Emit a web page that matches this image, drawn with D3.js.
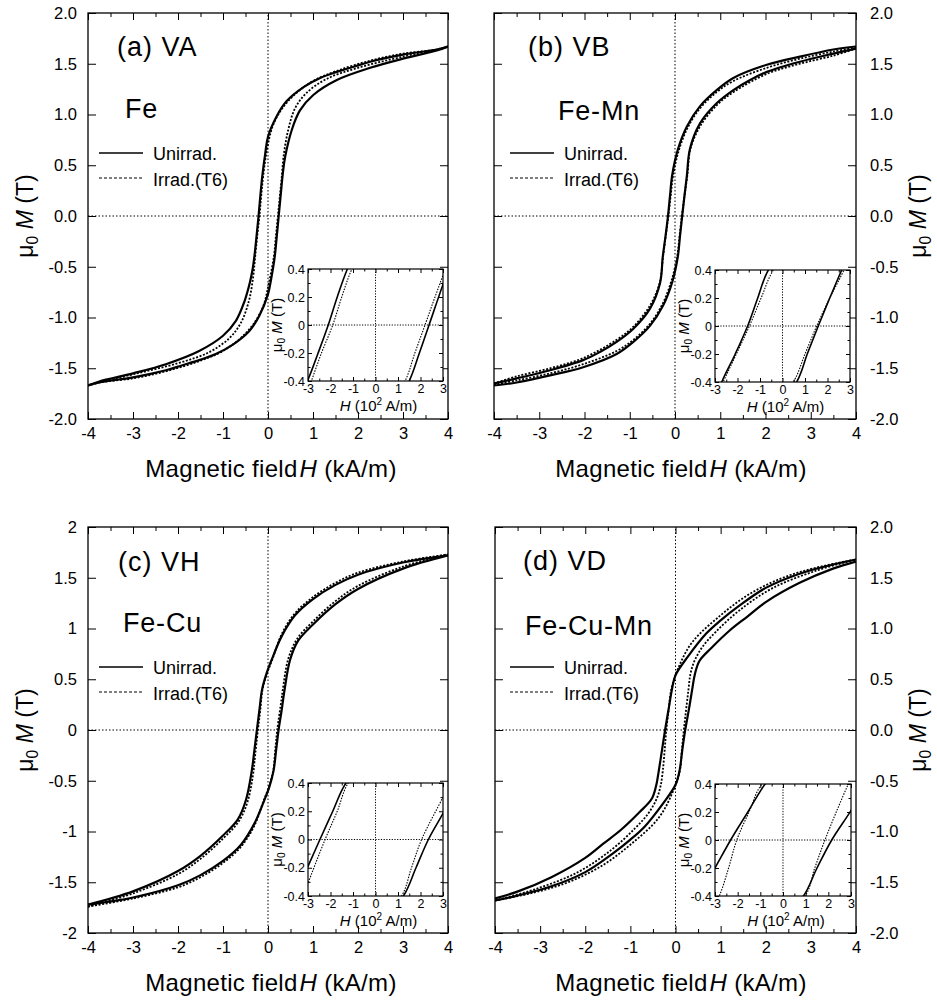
<!DOCTYPE html>
<html>
<head>
<meta charset="utf-8">
<script src="https://cdn.jsdelivr.net/npm/d3@7"></script>
<style>
  html, body { margin: 0; padding: 0; background: #fff; }
  svg { display: block; }
</style>
</head>
<body>
<svg id="fig" width="937" height="1004"></svg>
<script>
// ---------------------------------------------------------------------------
// Hysteresis loops: [H (kA/m), mu0*M (T)]
// "Down" = descending field branch (+4 -> -4), "Up" = ascending branch.
// ---------------------------------------------------------------------------

// (a) VA, Fe
const vaUnirradDown = [[4,1.67],[3.75,1.64],[3,1.59],[2.27,1.52],[1.9,1.47],[1.53,1.42],[1.16,1.36],[0.79,1.27],[0.41,1.13],[0.19,0.98],[0,0.78],[-0.06,0.62],[-0.125,0.4],[-0.17,0.2],[-0.21,0],[-0.255,-0.2],[-0.3,-0.39],[-0.34,-0.52],[-0.4,-0.65],[-0.53,-0.85],[-0.71,-1.03],[-1.0,-1.18],[-1.53,-1.33],[-2.27,-1.46],[-3,-1.55],[-3.75,-1.63],[-4,-1.67]];
const vaUnirradUp   = [[-4,-1.67],[-3.75,-1.64],[-3,-1.59],[-2.27,-1.52],[-1.9,-1.47],[-1.53,-1.42],[-1.16,-1.36],[-0.79,-1.27],[-0.41,-1.13],[-0.19,-0.98],[0,-0.77],[0.07,-0.62],[0.15,-0.4],[0.195,-0.2],[0.238,0],[0.3,0.29],[0.33,0.42],[0.38,0.58],[0.53,0.85],[0.71,1.04],[1.0,1.19],[1.53,1.34],[2.27,1.46],[3,1.55],[3.75,1.63],[4,1.67]];
const vaIrradDown   = [[4,1.67],[3.75,1.64],[3,1.6],[2.27,1.53],[1.53,1.43],[1.0,1.33],[0.6,1.2],[0.3,1.05],[0.1,0.88],[-0.02,0.66],[-0.105,0.4],[-0.15,0.2],[-0.19,0],[-0.24,-0.2],[-0.285,-0.4],[-0.33,-0.6],[-0.42,-0.83],[-0.6,-1.05],[-0.85,-1.2],[-1.3,-1.34],[-2,-1.45],[-3,-1.56],[-3.75,-1.64],[-4,-1.67]];
const vaIrradUp     = [[-4,-1.67],[-3.75,-1.64],[-3,-1.6],[-2.27,-1.53],[-1.53,-1.43],[-1.0,-1.33],[-0.6,-1.2],[-0.3,-1.05],[-0.1,-0.88],[0.02,-0.66],[0.131,-0.4],[0.175,-0.2],[0.22,0],[0.26,0.18],[0.3,0.357],[0.35,0.6],[0.45,0.85],[0.6,1.06],[0.85,1.21],[1.3,1.35],[2,1.46],[3,1.57],[3.75,1.64],[4,1.67]];

// (b) VB, Fe-Mn
const vbUnirradDown = [[4,1.67],[3.5,1.64],[2.76,1.57],[2.03,1.49],[1.29,1.36],[0.92,1.24],[0.55,1.08],[0.26,0.88],[0.06,0.65],[-0.063,0.4],[-0.11,0.2],[-0.155,0],[-0.21,-0.2],[-0.27,-0.4],[-0.33,-0.66],[-0.55,-0.91],[-0.92,-1.11],[-1.29,-1.24],[-1.66,-1.34],[-2.03,-1.42],[-2.76,-1.52],[-3.5,-1.6],[-4,-1.65]];
const vbUnirradUp   = [[-4,-1.67],[-3.5,-1.64],[-2.76,-1.57],[-2.03,-1.49],[-1.29,-1.36],[-0.92,-1.24],[-0.55,-1.08],[-0.26,-0.88],[-0.06,-0.65],[0.063,-0.4],[0.11,-0.2],[0.159,0],[0.21,0.2],[0.263,0.4],[0.33,0.66],[0.55,0.91],[0.92,1.11],[1.29,1.24],[1.66,1.34],[2.03,1.42],[2.76,1.52],[3.5,1.6],[4,1.65]];
const vbIrradDown   = [[4,1.66],[3.5,1.62],[2.76,1.55],[2.03,1.46],[1.29,1.33],[0.92,1.22],[0.55,1.06],[0.28,0.87],[0.08,0.64],[-0.041,0.4],[-0.095,0.2],[-0.147,0],[-0.205,-0.2],[-0.264,-0.4],[-0.34,-0.66],[-0.55,-0.88],[-0.92,-1.09],[-1.29,-1.22],[-2.03,-1.4],[-2.76,-1.5],[-3.5,-1.58],[-4,-1.65]];
const vbIrradUp     = [[-4,-1.66],[-3.5,-1.62],[-2.76,-1.55],[-2.03,-1.46],[-1.29,-1.33],[-0.92,-1.22],[-0.55,-1.06],[-0.28,-0.87],[-0.08,-0.64],[0.048,-0.4],[0.1,-0.2],[0.152,0],[0.21,0.2],[0.273,0.4],[0.34,0.66],[0.55,0.88],[0.92,1.09],[1.29,1.22],[2.03,1.4],[2.76,1.5],[3.5,1.58],[4,1.65]];

// (c) VH, Fe-Cu
const vhUnirradDown = [[4,1.72],[3,1.65],[2,1.53],[1.5,1.43],[1,1.29],[0.6,1.13],[0.3,0.92],[0.08,0.69],[-0.03,0.56],[-0.131,0.4],[-0.19,0.2],[-0.247,0],[-0.3,-0.19],[-0.36,-0.4],[-0.49,-0.69],[-0.67,-0.88],[-1,-1.04],[-1.5,-1.24],[-2,-1.39],[-3,-1.59],[-4,-1.72]];
const vhUnirradUp   = [[-4,-1.72],[-3,-1.65],[-2,-1.53],[-1.5,-1.43],[-1,-1.29],[-0.6,-1.13],[-0.3,-0.92],[-0.08,-0.69],[0.03,-0.56],[0.124,-0.4],[0.18,-0.2],[0.235,0],[0.3,0.185],[0.37,0.4],[0.49,0.69],[0.67,0.88],[1,1.04],[1.5,1.24],[2,1.39],[3,1.59],[4,1.72]];
const vhIrradDown   = [[4,1.73],[3,1.66],[2,1.55],[1.5,1.45],[1,1.31],[0.6,1.15],[0.3,0.94],[0.1,0.7],[-0.02,0.56],[-0.121,0.4],[-0.17,0.2],[-0.224,0],[-0.3,-0.31],[-0.32,-0.4],[-0.45,-0.7],[-0.65,-0.9],[-1,-1.07],[-1.5,-1.27],[-2,-1.42],[-3,-1.61],[-4,-1.74]];
const vhIrradUp     = [[-4,-1.74],[-3,-1.66],[-2,-1.55],[-1.5,-1.45],[-1,-1.31],[-0.6,-1.15],[-0.3,-0.94],[-0.1,-0.7],[0.02,-0.56],[0.116,-0.4],[0.16,-0.2],[0.205,0],[0.3,0.3],[0.33,0.4],[0.45,0.7],[0.65,0.9],[1,1.07],[1.5,1.27],[2,1.42],[3,1.61],[4,1.73]];

// (d) VD, Fe-Cu-Mn
const vdUnirradDown = [[4,1.68],[3.49,1.63],[2.75,1.54],[2,1.4],[1.4,1.22],[1,1.08],[0.68,0.95],[0.27,0.72],[0,0.54],[-0.079,0.4],[-0.155,0.2],[-0.231,0],[-0.3,-0.2],[-0.37,-0.4],[-0.43,-0.55],[-0.53,-0.68],[-0.8,-0.81],[-1.2,-0.98],[-1.6,-1.12],[-2,-1.26],[-2.75,-1.45],[-3.49,-1.59],[-4,-1.66]];
const vdUnirradUp   = [[-4,-1.68],[-3.49,-1.63],[-2.75,-1.54],[-2,-1.4],[-1.4,-1.22],[-1,-1.08],[-0.68,-0.95],[-0.27,-0.72],[0,-0.54],[0.09,-0.4],[0.15,-0.2],[0.215,0],[0.3,0.21],[0.37,0.4],[0.43,0.55],[0.53,0.68],[0.8,0.81],[1.2,0.98],[1.6,1.12],[2,1.26],[2.75,1.45],[3.49,1.59],[4,1.66]];
const vdIrradDown   = [[4,1.68],[3.12,1.6],[2.38,1.5],[1.64,1.34],[1,1.13],[0.38,0.87],[0.08,0.63],[-0.093,0.4],[-0.15,0.2],[-0.204,0],[-0.24,-0.2],[-0.281,-0.4],[-0.33,-0.55],[-0.42,-0.68],[-0.6,-0.82],[-0.9,-0.97],[-1.42,-1.18],[-2.16,-1.4],[-3.12,-1.57],[-4,-1.68]];
const vdIrradUp     = [[-4,-1.68],[-3.12,-1.6],[-2.38,-1.5],[-1.64,-1.34],[-1,-1.13],[-0.38,-0.87],[-0.08,-0.63],[0.097,-0.4],[0.14,-0.2],[0.185,0],[0.235,0.2],[0.288,0.4],[0.33,0.55],[0.42,0.68],[0.6,0.82],[0.9,0.97],[1.42,1.18],[2.16,1.4],[3.12,1.57],[4,1.68]];

// Labels
const panelTags   = ['(a) VA', '(b) VB', '(c) VH', '(d) VD'];
const alloyNames  = ['Fe', 'Fe-Mn', 'Fe-Cu', 'Fe-Cu-Mn'];
const seriesNames = ['Unirrad.', 'Irrad.(T6)'];

// Ticks (main: kA/m and T; inset: kA/m shown as 10^2 A/m)
const xMajorTicks = [-4, -3, -2, -1, 0, 1, 2, 3, 4];
const xMinorTicks = [-3.5, -2.5, -1.5, -0.5, 0.5, 1.5, 2.5, 3.5];
const yMajorTicks = [-2, -1.5, -1, -0.5, 0, 0.5, 1, 1.5, 2];
const insetXMajor = [-0.3, -0.2, -0.1, 0, 0.1, 0.2, 0.3];
const insetXMinor = [-0.25, -0.15, -0.05, 0.05, 0.15, 0.25];
const insetYMajor = [-0.4, -0.2, 0, 0.2, 0.4];
const insetYMinor = [-0.3, -0.1, 0.1, 0.3];

const panelSeries = [
  { down: vaUnirradDown, up: vaUnirradUp, iDown: vaIrradDown, iUp: vaIrradUp },
  { down: vbUnirradDown, up: vbUnirradUp, iDown: vbIrradDown, iUp: vbIrradUp },
  { down: vhUnirradDown, up: vhUnirradUp, iDown: vhIrradDown, iUp: vhIrradUp },
  { down: vdUnirradDown, up: vdUnirradUp, iDown: vdIrradDown, iUp: vdIrradUp }
];

// ---------------------------------------------------------------------------
const FONT = '"Liberation Sans", Arial, Helvetica, sans-serif';
const svg = d3.select('#fig').attr('font-family', FONT);

const fixed1 = d => d.toFixed(1);
const plain = d => String(d);

const layout = [
  { x0: 88,  x1: 448, y0: 13,  y1: 419, side: 'left',  fmt: fixed1, tag: [29, 43], alloy: [37, 105], leg: 11, xt: 271, inset: [308, 443, 269, 381] },
  { x0: 494, x1: 856, y0: 13,  y1: 419, side: 'right', fmt: fixed1, tag: [34, 43], alloy: [64, 107], leg: 16, xt: 681, inset: [715, 850, 270, 382] },
  { x0: 88,  x1: 448, y0: 527, y1: 933, side: 'left',  fmt: plain,  tag: [30, 44], alloy: [35, 105], leg: 11, xt: 271, inset: [308, 443, 783, 896] },
  { x0: 495, x1: 856, y0: 527, y1: 933, side: 'right', fmt: fixed1, tag: [28, 43], alloy: [30, 108], leg: 15, xt: 681, inset: [715, 851, 784, 896] }
];

const sortH = arr => arr.slice().sort((a, b) => a[0] - b[0]);

function styleAxis(g, fontSize) {
  g.select('.domain').remove();
  g.attr('font-family', FONT).attr('font-size', fontSize);
  g.selectAll('line').attr('stroke', '#000').attr('stroke-width', 1);
  g.selectAll('text').attr('fill', '#000');
}

function addAxis(parent, axisFn, scale, values, size, fmt, pad, fontSize, tx, ty) {
  const a = axisFn(scale)
    .tickValues(values)
    .tickSizeInner(-size)
    .tickSizeOuter(0)
    .tickPadding(pad)
    .tickFormat(fmt || (() => ''));
  const g = parent.append('g').attr('transform', `translate(${tx},${ty})`).call(a);
  styleAxis(g, fontSize);
  return g;
}

function drawLoops(g, x, y, s, solidW, dotW, dash) {
  const line = d3.line().x(d => x(d[0])).y(d => y(d[1])).curve(d3.curveCatmullRom.alpha(0.5));
  [s.iDown, s.iUp].forEach(b => {
    g.append('path').attr('d', line(sortH(b)))
      .attr('fill', 'none').attr('stroke', '#000')
      .attr('stroke-width', dotW).attr('stroke-dasharray', dash);
  });
  [s.down, s.up].forEach(b => {
    g.append('path').attr('d', line(sortH(b)))
      .attr('fill', 'none').attr('stroke', '#000')
      .attr('stroke-width', solidW).attr('stroke-linejoin', 'round');
  });
}

function muTitle(parent, tx, ty, size) {
  const t = parent.append('text')
    .attr('transform', `translate(${tx},${ty}) rotate(-90)`)
    .attr('text-anchor', 'middle').attr('font-size', size).attr('fill', '#000');
  t.append('tspan').text('\u03bc');
  t.append('tspan').attr('dy', size * 0.22).attr('font-size', size * 0.68).text('0');
  t.append('tspan').attr('dy', -size * 0.22).text(' ');
  t.append('tspan').attr('font-style', 'italic').text('M');
  t.append('tspan').text(' (T)');
}

layout.forEach((p, i) => {
  const s = panelSeries[i];
  const g = svg.append('g');
  const x = d3.scaleLinear().domain([-4, 4]).range([p.x0, p.x1]);
  const y = d3.scaleLinear().domain([-2, 2]).range([p.y1, p.y0]);

  const clipId = 'clip' + i;
  svg.append('clipPath').attr('id', clipId).append('rect')
    .attr('x', p.x0).attr('y', p.y0).attr('width', p.x1 - p.x0).attr('height', p.y1 - p.y0);

  // zero reference lines
  g.append('line').attr('x1', x(-4)).attr('x2', x(4)).attr('y1', y(0)).attr('y2', y(0))
    .attr('stroke', '#000').attr('stroke-width', 1).attr('stroke-dasharray', '1.5,2');
  g.append('line').attr('x1', x(0)).attr('x2', x(0)).attr('y1', y(-2)).attr('y2', y(2))
    .attr('stroke', '#000').attr('stroke-width', 1).attr('stroke-dasharray', '1.5,2');

  const cg = g.append('g').attr('clip-path', `url(#${clipId})`);
  drawLoops(cg, x, y, s, 2.2, 1.8, '2,1.6');

  // axes: inward ticks on all four sides
  addAxis(g, d3.axisBottom, x, xMajorTicks, 7, plain, 8, 16.5, 0, p.y1);
  addAxis(g, d3.axisBottom, x, xMinorTicks, 4, null, 8, 16.5, 0, p.y1);
  addAxis(g, d3.axisTop, x, xMajorTicks, 7, null, 8, 16.5, 0, p.y0);
  addAxis(g, d3.axisTop, x, xMinorTicks, 4, null, 8, 16.5, 0, p.y0);
  if (p.side === 'left') {
    addAxis(g, d3.axisLeft, y, yMajorTicks, 8, p.fmt, 11, 16.5, p.x0, 0);
    addAxis(g, d3.axisRight, y, yMajorTicks, 8, null, 11, 16.5, p.x1, 0);
  } else {
    addAxis(g, d3.axisLeft, y, yMajorTicks, 8, null, 11, 16.5, p.x0, 0);
    addAxis(g, d3.axisRight, y, yMajorTicks, 8, p.fmt, 14, 16.5, p.x1, 0);
  }
  g.append('rect').attr('x', p.x0).attr('y', p.y0)
    .attr('width', p.x1 - p.x0).attr('height', p.y1 - p.y0)
    .attr('fill', 'none').attr('stroke', '#000').attr('stroke-width', 1.3);

  // axis titles
  const xt = g.append('text').attr('x', p.xt).attr('y', p.y1 + 58)
    .attr('text-anchor', 'middle').attr('font-size', 24).attr('letter-spacing', 0.3)
    .attr('fill', '#000');
  xt.append('tspan').text('Magnetic field');
  xt.append('tspan').attr('dx', 2).attr('font-style', 'italic').text('H');
  xt.append('tspan').text(' (kA/m)');
  const cy = (p.y0 + p.y1) / 2;
  if (p.side === 'left') muTitle(g, 33, cy, 23);
  else muTitle(g, 926, cy, 23);

  // panel tag, alloy, legend
  g.append('text').attr('x', p.x0 + p.tag[0]).attr('y', p.y0 + p.tag[1])
    .attr('font-size', 27).attr('letter-spacing', 1).attr('fill', '#000').text(panelTags[i]);
  g.append('text').attr('x', p.x0 + p.alloy[0]).attr('y', p.y0 + p.alloy[1])
    .attr('font-size', 27).attr('letter-spacing', 0.8).attr('fill', '#000').text(alloyNames[i]);
  const lx = p.x0 + p.leg;
  g.append('line').attr('x1', lx).attr('x2', lx + 44)
    .attr('y1', p.y0 + 140).attr('y2', p.y0 + 140)
    .attr('stroke', '#000').attr('stroke-width', 1.5);
  g.append('line').attr('x1', lx).attr('x2', lx + 44)
    .attr('y1', p.y0 + 165).attr('y2', p.y0 + 165)
    .attr('stroke', '#000').attr('stroke-width', 1.2).attr('stroke-dasharray', '3,2');
  g.append('text').attr('x', lx + 54).attr('y', p.y0 + 147)
    .attr('font-size', 18).attr('fill', '#000').text(seriesNames[0]);
  g.append('text').attr('x', lx + 54).attr('y', p.y0 + 173)
    .attr('font-size', 18).attr('fill', '#000').text(seriesNames[1]);

  // inset: same loops near the coercive field
  const [ix0, ix1, iy0, iy1] = p.inset;
  const ig = svg.append('g');
  const ix = d3.scaleLinear().domain([-0.3, 0.3]).range([ix0, ix1]);
  const iy = d3.scaleLinear().domain([-0.4, 0.4]).range([iy1, iy0]);
  ig.append('rect').attr('x', ix0).attr('y', iy0).attr('width', ix1 - ix0).attr('height', iy1 - iy0)
    .attr('fill', '#fff');
  const iclip = 'iclip' + i;
  svg.append('clipPath').attr('id', iclip).append('rect')
    .attr('x', ix0).attr('y', iy0).attr('width', ix1 - ix0).attr('height', iy1 - iy0);
  ig.append('line').attr('x1', ix0).attr('x2', ix1).attr('y1', iy(0)).attr('y2', iy(0))
    .attr('stroke', '#000').attr('stroke-width', 1).attr('stroke-dasharray', '1.2,1.5');
  ig.append('line').attr('x1', ix(0)).attr('x2', ix(0)).attr('y1', iy0).attr('y2', iy1)
    .attr('stroke', '#000').attr('stroke-width', 1).attr('stroke-dasharray', '1.2,1.5');
  const icg = ig.append('g').attr('clip-path', `url(#${iclip})`);
  drawLoops(icg, ix, iy, s, 1.6, 1.1, '1.5,1.3');

  const insetXFmt = d => String(Math.round(d * 10));
  const insetYFmt = d => (d === 0 ? '0' : d.toFixed(1));
  addAxis(ig, d3.axisBottom, ix, insetXMajor, 4, insetXFmt, 3, 12.5, 0, iy1);
  addAxis(ig, d3.axisBottom, ix, insetXMinor, 2.5, null, 3, 12.5, 0, iy1);
  addAxis(ig, d3.axisTop, ix, insetXMajor, 4, null, 2, 12.5, 0, iy0);
  addAxis(ig, d3.axisTop, ix, insetXMinor, 2.5, null, 2, 12.5, 0, iy0);
  addAxis(ig, d3.axisLeft, iy, insetYMajor, 4, insetYFmt, 3, 12.5, ix0, 0);
  addAxis(ig, d3.axisLeft, iy, insetYMinor, 2.5, null, 3, 12.5, ix0, 0);
  addAxis(ig, d3.axisRight, iy, insetYMajor, 4, null, 2, 12.5, ix1, 0);
  addAxis(ig, d3.axisRight, iy, insetYMinor, 2.5, null, 2, 12.5, ix1, 0);
  ig.append('rect').attr('x', ix0).attr('y', iy0).attr('width', ix1 - ix0).attr('height', iy1 - iy0)
    .attr('fill', 'none').attr('stroke', '#000').attr('stroke-width', 1.2);

  const ixt = ig.append('text').attr('x', (ix0 + ix1) / 2 + 3).attr('y', iy1 + 30)
    .attr('text-anchor', 'middle').attr('font-size', 15).attr('fill', '#000');
  ixt.append('tspan').attr('font-style', 'italic').text('H');
  ixt.append('tspan').text(' (10');
  ixt.append('tspan').attr('dy', -6).attr('font-size', 10).text('2');
  ixt.append('tspan').attr('dy', 6).text(' A/m)');
  muTitle(ig, ix0 - 26, (iy0 + iy1) / 2, 15);
});
</script>
</body>
</html>
